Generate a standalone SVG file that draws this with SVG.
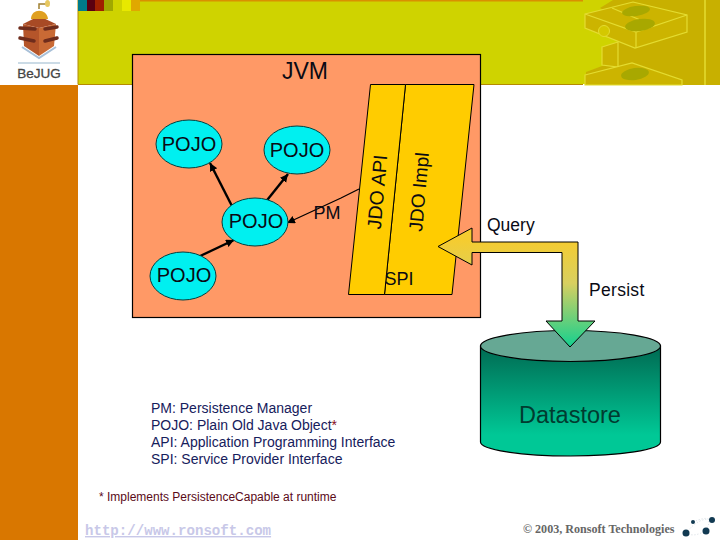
<svg xmlns="http://www.w3.org/2000/svg" width="720" height="540" viewBox="0 0 720 540">
<style>
text{font-family:"Liberation Sans",Arial,sans-serif;fill:#0a0a14}
.p{fill:#00f0f0;stroke:#004040;stroke-width:1}
.y{fill:#ffcc00;stroke:#000;stroke-width:1}
.c{stroke:#000;stroke-width:2.4;fill:none;marker-end:url(#ah)}
.d{fill:none;stroke:#e4dc30;stroke-width:1.200}
.b{fill:#ccb400;stroke:#e4dc30;stroke-width:1.200}
.o{fill:#a8a800}
.t20{font-size:20px;text-anchor:middle}
.peg{stroke:#6e2c1c;stroke-width:3.500;stroke-linecap:round}
</style>
<defs>
<marker id="ah" markerUnits="userSpaceOnUse" markerWidth="10" markerHeight="10" refX="8" refY="4" orient="auto"><path d="M0 0L8 4L0 8z" fill="#000"/></marker>
<linearGradient id="ag" gradientUnits="userSpaceOnUse" x1="0" y1="240" x2="0" y2="348"><stop offset="0" stop-color="#f5cc30"/><stop offset="0.4" stop-color="#d8cf60"/><stop offset="1" stop-color="#10d090"/></linearGradient>
<linearGradient id="dg" gradientUnits="userSpaceOnUse" x1="0" y1="350" x2="0" y2="435"><stop offset="0" stop-color="#006e55"/><stop offset="1" stop-color="#00c896"/></linearGradient>
</defs>
<rect width="720" height="540" fill="#fff"/>
<g id="background">
<rect x="0" y="85" width="78" height="455" fill="#d97700"/>
<rect x="78" y="0" width="642" height="84" fill="#cfd300"/>
<path d="M78 0V84.500H583" fill="none" stroke="#b58a00" stroke-width="1"/>
<rect x="140" y="0" width="443" height="1.500" fill="#d99000"/>
<path d="M613 0H720V85H586V72L618 60V42L640 30L600 8z" fill="#c8b000"/>
<path class="b" d="M585 14L633 2L687 15V32L635 48L585 28z"/>
<path class="d" d="M585 14L636 32L687 15M636 32V48M612 8L645 22"/>
<path class="b" d="M602 47L618 42V67L602 65z"/>
<path class="b" d="M585 75L632 63L682 80V85H585z"/>
<path d="M705 0V85" fill="none" stroke="#e4dc30" stroke-width="1.500"/>
<ellipse class="o" cx="636" cy="11" rx="14" ry="5" transform="rotate(-8 636 11)"/>
<ellipse class="o" cx="640" cy="25" rx="15" ry="6" transform="rotate(-8 640 25)"/>
<ellipse class="o" cx="635" cy="74" rx="14" ry="6" transform="rotate(-8 635 74)"/>
<circle cx="604" cy="31" r="5.500" fill="#d4c800" stroke="#e4dc30"/>
<rect x="78" y="0" width="9" height="11" fill="#007b8a"/>
<rect x="87" y="0" width="9" height="11" fill="#5a0010"/>
<rect x="95" y="0" width="9" height="11" fill="#a02000"/>
<rect x="104" y="0" width="9" height="11" fill="#a0a800"/>
<rect x="122" y="0" width="9" height="11" fill="#e8e800"/>
<rect x="131" y="0" width="9" height="11" fill="#e0a800"/>
</g>
<g id="logo">
<path d="M22 47L39 58L56 47" fill="none" stroke="#a8c0d8" stroke-width="2"/>
<path d="M23 24L39 28V56L24 46z" fill="#b5552a"/>
<path d="M39 28L56 24L54 46L39 56z" fill="#c96a35"/>
<path d="M23 24L39 16L56 24L39 28z" fill="#a84a25"/>
<path d="M31 19C31 8 47 8 48 19z" fill="#e0a020"/>
<path d="M39 9V4H46" stroke="#a08030" stroke-width="1.500" fill="none"/>
<ellipse cx="47.500" cy="3.500" rx="2.500" ry="3.500" fill="#e8c860"/>
<path class="peg" d="M20 28L35 29M20 38L34 41M45 29L57 27M45 41L57 38"/>
<path d="M18 63H60" stroke="#6a9ab8" stroke-width="0.700"/>
<text x="39" y="78" font-size="13.500" text-anchor="middle" style="fill:#444;stroke:#444;stroke-width:0.300">BeJUG</text>
</g>
<g id="jvm">
<rect x="132.500" y="54.500" width="348" height="263" fill="#ff9966" stroke="#000" stroke-width="1.200"/>
<text x="305" y="79" font-size="23" text-anchor="middle">JVM</text>
</g>
<g id="jdo-impl">
<path class="y" d="M405.500 84.500H474L452 294.500H384.500z"/>
<text transform="translate(425.500 192.500) rotate(-85)" font-size="19" text-anchor="middle">JDO Impl</text>
</g>
<g id="jdo-api">
<path class="y" d="M370.500 84.500H405.500L384.500 294.500H348.500z"/>
<text transform="translate(384 192.500) rotate(-85)" font-size="19.500" text-anchor="middle">JDO API</text>
</g>
<g id="connectors">
<line class="c" x1="198" y1="257" x2="234" y2="240"/>
<line class="c" x1="234" y1="210" x2="210" y2="163"/>
<line class="c" x1="264" y1="204" x2="288" y2="174"/>
<path d="M359 189L341 198L287 223" stroke="#000" stroke-width="1.300" fill="none" marker-end="url(#ah)"/>
</g>
<g id="pojo-a"><ellipse class="p" cx="189" cy="144" rx="33" ry="24"/><text class="t20" x="189" y="151">POJO</text></g>
<g id="pojo-b"><ellipse class="p" cx="297" cy="150" rx="33" ry="24"/><text class="t20" x="297" y="157">POJO</text></g>
<g id="pojo-c"><ellipse class="p" cx="255" cy="222" rx="33" ry="24"/><text class="t20" x="256" y="228">POJO</text></g>
<g id="pojo-d"><ellipse class="p" cx="183" cy="276" rx="33" ry="24"/><text class="t20" x="184" y="282">POJO</text></g>
<text x="327" y="219" font-size="18" text-anchor="middle">PM</text>
<text x="399" y="285" font-size="18" text-anchor="middle">SPI</text>
<g id="datastore">
<path d="M480.500 346V442A90 14 0 0 0 660.500 442V346z" fill="url(#dg)" stroke="#000" stroke-width="1.200"/>
<ellipse cx="570.500" cy="346" rx="90" ry="15.500" fill="#66a894" stroke="#000" stroke-width="1.200"/>
<text x="570" y="423" font-size="23.500" text-anchor="middle" style="fill:#003c30">Datastore</text>
</g>
<g id="arrow">
<path d="M438 246.500L472 228V242H578V321H595L570 347L546 321H562V252.500H472V265z" fill="url(#ag)" stroke="#000" stroke-width="1"/>
</g>
<text x="487" y="231" font-size="17.500">Query</text>
<text x="589" y="296" font-size="17.500" letter-spacing="0.300">Persist</text>
<g id="legend" font-size="14">
<text x="151" y="412.500" style="fill:#16205c">PM: Persistence Manager</text>
<text x="151" y="429.500" style="fill:#16205c">POJO: Plain Old Java Object<tspan style="fill:#8a1020">*</tspan></text>
<text x="151" y="446.500" style="fill:#16205c">API: Application Programming Interface</text>
<text x="151" y="463.500" style="fill:#16205c">SPI: Service Provider Interface</text>
</g>
<text x="99" y="501" font-size="12" style="fill:#5a0a18">* Implements PersistenceCapable at runtime</text>
<text x="85" y="535" font-size="14.100" style="font-family:'Liberation Mono',monospace;fill:#c8c8e8;font-weight:bold;text-decoration:underline">http://www.ronsoft.com</text>
<text x="523" y="533" font-size="12.100" style="font-family:'Liberation Serif',serif;fill:#666;font-weight:bold">© 2003, Ronsoft Technologies</text>
<g id="globe" fill="#123a52">
<path d="M686 533Q700 516 712 520M693 522Q716 512 706 530Q695 538 686 533" fill="none" stroke="#c8d0d8" stroke-width="0.800" stroke-dasharray="1 2"/>
<circle cx="686" cy="533" r="3.500"/><circle cx="706" cy="531" r="3.500"/><circle cx="693" cy="522" r="2"/><circle cx="712" cy="520" r="3"/>
</g>
</svg>
